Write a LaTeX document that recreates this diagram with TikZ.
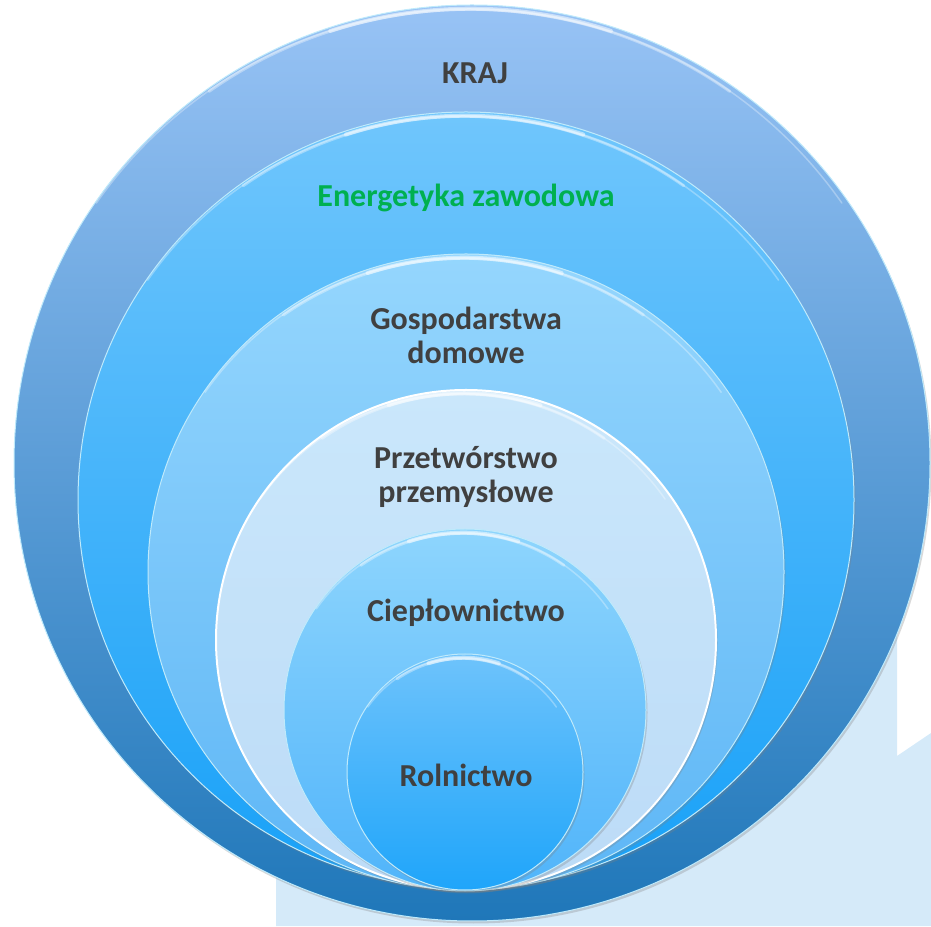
\documentclass[tikz,border=0pt]{standalone}
\usepackage{fontspec}
\setmainfont{Carlito}
\usetikzlibrary{shadows}

\definecolor{krajTop}{HTML}{98C3F5}
\definecolor{krajMid}{HTML}{6CA5DF}
\definecolor{krajBot}{HTML}{1F77B9}
\definecolor{energTop}{HTML}{70C6FC}
\definecolor{energBot}{HTML}{18A1F8}
\definecolor{gospTop}{HTML}{95D6FD}
\definecolor{gospBot}{HTML}{5DB6F6}
\definecolor{przTop}{HTML}{CAE7FB}
\definecolor{przBot}{HTML}{BCDBF7}
\definecolor{ciepTop}{HTML}{8ED5FD}
\definecolor{ciepBot}{HTML}{50B4FA}
\definecolor{rolTop}{HTML}{6EC3FB}
\definecolor{rolBot}{HTML}{1FA5FA}
\definecolor{floorBlue}{HTML}{D5EAF9}
\definecolor{labelGray}{HTML}{404040}
\definecolor{labelGreen}{HTML}{00B050}

\begin{document}
\begin{tikzpicture}[x=1pt, y=1pt,
	disc/.style={circle, inner sep=0pt, draw=white!75!cyan, line width=1pt,
		drop shadow={shadow xshift=1.5pt, shadow yshift=-2.5pt, opacity=0.3}},
	glintwide/.style={draw=white, line width=1.5pt, opacity=0.3, line cap=round},
	glintmid/.style={draw=white, line width=3pt, opacity=0.35, line cap=round},
	glintcore/.style={draw=white, line width=4pt, opacity=0.5, line cap=round},
	lbl/.style={font=\fontsize{32}{34}\selectfont\bfseries, text=labelGray, align=center}]

	\useasboundingbox (0,0) rectangle (931,926);

	\fill[floorBlue] (276,0) -- (276,326) -- (897,326) -- (897,170) -- (931,193) -- (931,0) -- cycle;

	\node[disc, minimum size=916pt, top color=krajTop, middle color=krajMid, bottom color=krajBot](kraj) at (472,463){};
	\node[disc, minimum size=776pt, top color=energTop, bottom color=energBot](energ) at (466,426){};
	\node[disc, minimum size=636pt, top color=gospTop, bottom color=gospBot](gosp) at (466,354){};
	\node[disc, minimum size=500pt, top color=przTop, bottom color=przBot, draw=white, line width=2pt](prz) at (466,286){};
	\node[disc, minimum size=362pt, top color=ciepTop, bottom color=ciepBot](ciep) at (465,216){};
	\node[disc, minimum size=236pt, top color=rolTop, bottom color=rolBot](rol) at (465,154){};

	\draw[glintwide] ([yshift=-3pt]kraj.145) arc[start angle=145, end angle=35, radius=455];
	\draw[glintmid] ([yshift=-4pt]kraj.125) arc[start angle=125, end angle=55, radius=454];
	\draw[glintcore] ([yshift=-4pt]kraj.108) arc[start angle=108, end angle=72, radius=454];

	\draw[glintwide] ([yshift=-3pt]energ.145) arc[start angle=145, end angle=35, radius=385];
	\draw[glintmid] ([yshift=-4pt]energ.125) arc[start angle=125, end angle=55, radius=384];
	\draw[glintcore] ([yshift=-4pt]energ.108) arc[start angle=108, end angle=72, radius=384];

	\draw[glintwide] ([yshift=-3pt]gosp.145) arc[start angle=145, end angle=35, radius=315];
	\draw[glintmid] ([yshift=-4pt]gosp.125) arc[start angle=125, end angle=55, radius=314];
	\draw[glintcore] ([yshift=-4pt]gosp.108) arc[start angle=108, end angle=72, radius=314];

	\draw[glintwide] ([yshift=-3pt]prz.145) arc[start angle=145, end angle=35, radius=247];
	\draw[glintmid] ([yshift=-4pt]prz.125) arc[start angle=125, end angle=55, radius=246];
	\draw[glintcore] ([yshift=-4pt]prz.108) arc[start angle=108, end angle=72, radius=246];

	\draw[glintwide] ([yshift=-3pt]ciep.145) arc[start angle=145, end angle=35, radius=178];
	\draw[glintmid] ([yshift=-4pt]ciep.125) arc[start angle=125, end angle=55, radius=177];
	\draw[glintcore] ([yshift=-4pt]ciep.108) arc[start angle=108, end angle=72, radius=177];

	\draw[glintwide] ([yshift=-3pt]rol.145) arc[start angle=145, end angle=35, radius=115];
	\draw[glintmid] ([yshift=-4pt]rol.125) arc[start angle=125, end angle=55, radius=114];
	\draw[glintcore] ([yshift=-4pt]rol.108) arc[start angle=108, end angle=72, radius=114];

	\node[lbl](krajText) at (475,853){KRAJ};
	\node[lbl, text=labelGreen](energText) at (466,728){Energetyka zawodowa};
	\node[lbl](gospText) at (466,591){Gospodarstwa\\domowe};
	\node[lbl](przText) at (466,449){Przetwórstwo\\przemysłowe};
	\node[lbl](ciepText) at (466,313){Ciepłownictwo};
	\node[lbl](rolText) at (466,151){Rolnictwo};

\end{tikzpicture}
\end{document}
